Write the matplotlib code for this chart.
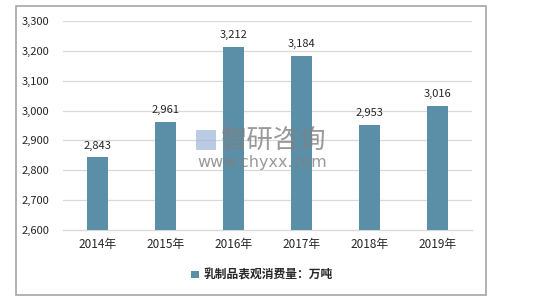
import matplotlib
matplotlib.use("Agg")
import matplotlib.pyplot as plt
from matplotlib.patches import Rectangle

plt.rcParams['font.family'] = ['Noto Sans CJK SC', 'DejaVu Sans']

categories = ["2014年", "2015年", "2016年", "2017年", "2018年", "2019年"]
values = [2843, 2961, 3212, 3184, 2953, 3016]
yticks = [2600, 2700, 2800, 2900, 3000, 3100, 3200, 3300]
series_name = "乳制品表观消费量：万吨"

W, H = 535, 302
fig = plt.figure(figsize=(W / 100, H / 100), dpi=100)
fig.patch.set_facecolor("white")

# outer border
fig.add_artist(Rectangle((16 / W, 1 - 295 / H), (486 - 16) / W, (295 - 6) / H,
                         transform=fig.transFigure, fill=False,
                         edgecolor="#A6A6A6", linewidth=1.2))

ax = fig.add_axes([63 / W, 1 - 230 / H, (472 - 63) / W, (230 - 21) / H])
bar_color = "#5B8FA7"
x = range(len(categories))
bars = ax.bar(x, values, width=0.31, color=bar_color, zorder=3,
              label=series_name)
ax.set_ylim(2600, 3300)
ax.set_xlim(-0.5, len(categories) - 0.5)
ax.set_yticks(yticks)
ax.set_yticklabels([f"{v:,}" for v in yticks], fontsize=8, color="#262626")
ax.set_xticks(list(x))
ax.set_xticklabels(categories, fontsize=8.5, color="#262626")
ax.tick_params(axis="both", length=0)
ax.tick_params(axis="y", pad=10)
ax.tick_params(axis="x", pad=6)
ax.grid(axis="y", color="#D9D9D9", linewidth=0.9, zorder=0)
for s in ["top", "right", "left"]:
    ax.spines[s].set_visible(False)
ax.spines["bottom"].set_color("#D9D9D9")
ax.spines["bottom"].set_linewidth(0.9)

for xi, v in zip(x, values):
    ax.annotate(f"{v:,}", (xi, v), xytext=(0, 5), textcoords="offset points",
                ha="center", va="bottom", fontsize=8, color="#262626")

# watermark
fig.text(221 / W, 1 - 140 / H, "智研咨询", fontsize=19, color="#808080",
         alpha=0.8, va="center", ha="left", zorder=10)
fig.text(262 / W, 1 - 163 / H, "www.chyxx.com", fontsize=11.5, color="#808080",
         alpha=0.8, va="center", ha="center", zorder=10, family="DejaVu Sans")
fig.add_artist(Rectangle((196 / W, 1 - 150 / H), 20 / W, 20 / H,
                         transform=fig.transFigure, facecolor="#9DB6D8",
                         edgecolor="none", alpha=0.7, zorder=10))

# legend
leg = fig.legend(handles=[bars], labels=[series_name], loc="center",
                 bbox_to_anchor=(262 / W, 1 - 275 / H), frameon=False,
                 fontsize=8.5, handlelength=0.6, handleheight=0.6,
                 handletextpad=0.4)
for t in leg.get_texts():
    t.set_color("#262626")
    t.set_fontweight("bold")

fig.savefig("out.png", dpi=100, facecolor="white")
